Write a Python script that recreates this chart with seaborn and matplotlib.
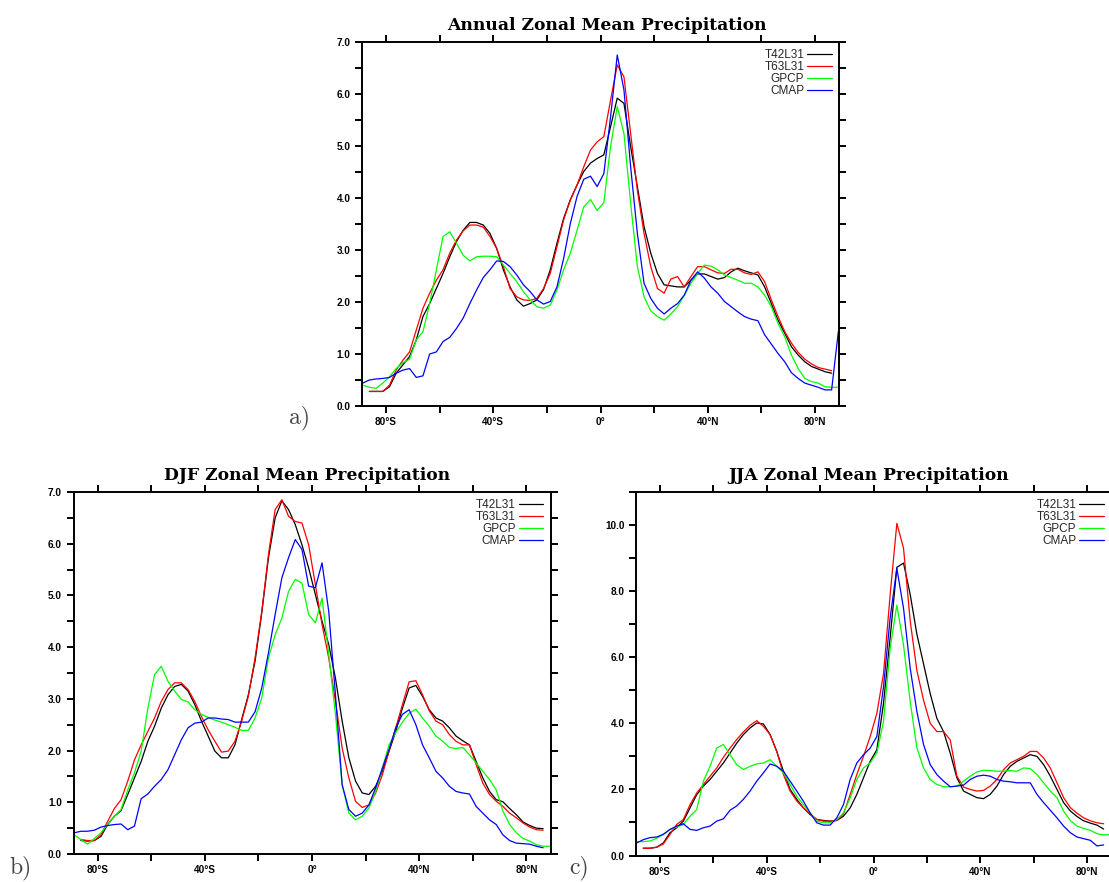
import numpy as np
import pandas as pd
import matplotlib
matplotlib.use("Agg")
import matplotlib.pyplot as plt
from matplotlib.lines import Line2D
from matplotlib.ticker import FixedLocator, FuncFormatter, MultipleLocator, FormatStrFormatter
import seaborn as sns

nan = np.nan

# Latitude grid (2.5 degree spacing, cell centres)
lat = np.round(np.arange(-88.75, 89.0, 2.5), 2)

sources = ["T42L31", "T63L31", "GPCP", "CMAP"]
colors = {"T42L31": "#000000", "T63L31": "#ff0000", "GPCP": "#00ff00", "CMAP": "#0000ff"}

# ---- Annual zonal mean precipitation (mm/day) ----
ann_t42 = [nan, 0.28, 0.28, 0.28, 0.37, 0.63, 0.79, 0.95, 1.27, 1.72,
           1.97, 2.26, 2.55, 2.87, 3.16, 3.38, 3.53, 3.53, 3.48, 3.32,
           3.03, 2.62, 2.29, 2.04, 1.92, 1.97, 2.04, 2.24, 2.62, 3.13,
           3.61, 3.97, 4.25, 4.51, 4.67, 4.76,
           4.83, 5.37, 5.92, 5.82, 4.99, 4.22, 3.45, 2.94, 2.55, 2.33,
           2.31, 2.29, 2.29, 2.42, 2.54, 2.54, 2.49, 2.44, 2.47, 2.58,
           2.65, 2.60, 2.56, 2.52, 2.29, 1.97, 1.65, 1.40, 1.14, 0.98,
           0.85, 0.76, 0.71, 0.66, 0.63, nan]
ann_t63 = [nan, 0.28, 0.28, 0.28, 0.40, 0.69, 0.88, 1.04, 1.46, 1.88,
           2.17, 2.42, 2.62, 2.94, 3.19, 3.37, 3.48, 3.48, 3.44, 3.26,
           3.03, 2.68, 2.26, 2.10, 2.04, 2.03, 2.07, 2.26, 2.55, 3.06,
           3.58, 3.96, 4.25, 4.60, 4.92, 5.08,
           5.18, 5.88, 6.56, 6.33, 5.24, 4.15, 3.32, 2.68, 2.26, 2.17,
           2.44, 2.49, 2.29, 2.49, 2.68, 2.68, 2.62, 2.56, 2.55, 2.63,
           2.63, 2.56, 2.53, 2.58, 2.39, 2.04, 1.72, 1.43, 1.21, 1.03,
           0.90, 0.81, 0.74, 0.71, 0.68, nan]
ann_gpcp = [0.40, 0.36, 0.34, 0.44, 0.56, 0.72, 0.83, 0.90, 1.27, 1.43,
            1.97, 2.62, 3.26, 3.35, 3.13, 2.90, 2.79, 2.87, 2.88, 2.88,
            2.87, 2.71, 2.55, 2.39, 2.20, 2.04, 1.91, 1.88, 1.94, 2.23,
            2.62, 2.94, 3.38, 3.83, 3.97, 3.76,
            3.91, 4.99, 5.76, 5.24, 3.90, 2.68, 2.10, 1.83, 1.72, 1.65,
            1.77, 1.91, 2.13, 2.36, 2.55, 2.71, 2.69, 2.62, 2.52, 2.47,
            2.42, 2.36, 2.36, 2.29, 2.13, 1.91, 1.59, 1.33, 0.98, 0.72,
            0.53, 0.47, 0.44, 0.37, 0.36, 0.36]
ann_cmap = [0.44, 0.50, 0.52, 0.53, 0.55, 0.63, 0.69, 0.72, 0.55, 0.58,
            1.00, 1.04, 1.24, 1.32, 1.49, 1.69, 1.97, 2.23, 2.47, 2.62,
            2.79, 2.78, 2.68, 2.52, 2.33, 2.20, 2.04, 1.96, 2.01, 2.29,
            2.84, 3.51, 4.03, 4.36, 4.42, 4.22,
            4.47, 5.56, 6.75, 6.08, 4.60, 3.32, 2.36, 2.07, 1.88, 1.77,
            1.88, 1.97, 2.13, 2.42, 2.58, 2.46, 2.29, 2.17, 2.01, 1.91,
            1.81, 1.72, 1.67, 1.64, 1.37, 1.19, 1.01, 0.85, 0.64, 0.53,
            0.44, 0.40, 0.36, 0.31, 0.31, 1.43]

# ---- DJF ----
djf_t42 = [nan, 0.26, 0.25, 0.26, 0.34, 0.57, 0.73, 0.84, 1.15, 1.47,
           1.79, 2.18, 2.47, 2.82, 3.08, 3.24, 3.28, 3.15, 2.89, 2.57,
           2.28, 1.99, 1.86, 1.86, 2.11, 2.60, 3.08, 3.73, 4.66, 5.73,
           6.50, 6.83, 6.66, 6.37, 5.98, 5.53,
           5.02, 4.50, 4.05, 3.40, 2.57, 1.86, 1.41, 1.18, 1.15, 1.31,
           1.60, 1.99, 2.37, 2.82, 3.21, 3.26, 3.05, 2.79, 2.63, 2.57,
           2.44, 2.28, 2.19, 2.11, 1.79, 1.47, 1.21, 1.05, 1.01, 0.88,
           0.76, 0.62, 0.55, 0.50, 0.49, nan]
djf_t63 = [nan, 0.28, 0.26, 0.26, 0.37, 0.63, 0.88, 1.05, 1.41, 1.82,
           2.11, 2.37, 2.63, 2.95, 3.18, 3.31, 3.31, 3.18, 2.95, 2.66,
           2.40, 2.18, 1.97, 1.99, 2.18, 2.57, 3.05, 3.79, 4.69, 5.79,
           6.66, 6.85, 6.53, 6.43, 6.40, 5.98,
           5.21, 4.44, 3.79, 2.95, 2.05, 1.47, 1.02, 0.90, 0.95, 1.18,
           1.53, 1.99, 2.44, 2.89, 3.33, 3.35, 3.08, 2.77, 2.57, 2.50,
           2.31, 2.18, 2.11, 2.11, 1.73, 1.37, 1.15, 1.02, 0.92, 0.79,
           0.70, 0.60, 0.52, 0.47, 0.46, nan]
djf_gpcp = [0.37, 0.28, 0.19, 0.30, 0.41, 0.57, 0.73, 0.86, 1.24, 1.57,
            1.99, 2.82, 3.47, 3.63, 3.34, 3.15, 2.99, 2.94, 2.79, 2.70,
            2.64, 2.59, 2.55, 2.50, 2.45, 2.39, 2.39, 2.63, 3.02, 3.79,
            4.24, 4.56, 5.08, 5.31, 5.24, 4.63,
            4.47, 4.95, 3.86, 2.70, 1.34, 0.79, 0.66, 0.73, 0.89, 1.21,
            1.66, 2.11, 2.35, 2.55, 2.72, 2.80, 2.63, 2.47, 2.28, 2.18,
            2.06, 2.04, 2.06, 1.92, 1.76, 1.60, 1.44, 1.24, 0.83, 0.57,
            0.41, 0.30, 0.25, 0.18, 0.15, 0.15]
djf_cmap = [0.41, 0.44, 0.44, 0.46, 0.52, 0.55, 0.57, 0.58, 0.47, 0.54,
            1.07, 1.16, 1.31, 1.44, 1.63, 1.92, 2.21, 2.44, 2.53, 2.55,
            2.63, 2.63, 2.61, 2.60, 2.55, 2.55, 2.55, 2.75, 3.21, 3.89,
            4.63, 5.34, 5.73, 6.08, 5.89, 5.18,
            5.15, 5.63, 4.69, 3.08, 1.34, 0.86, 0.73, 0.79, 0.95, 1.28,
            1.66, 2.02, 2.44, 2.70, 2.79, 2.50, 2.11, 1.86, 1.60, 1.47,
            1.31, 1.21, 1.18, 1.16, 0.92, 0.79, 0.66, 0.57, 0.37, 0.26,
            0.21, 0.20, 0.19, 0.15, 0.12, nan]

# ---- JJA ----
jja_t42 = [nan, 0.22, 0.22, 0.25, 0.38, 0.69, 0.84, 1.04, 1.44, 1.84,
           2.10, 2.30, 2.55, 2.80, 3.10, 3.40, 3.66, 3.86, 4.01, 3.98,
           3.66, 3.15, 2.55, 2.00, 1.70, 1.44, 1.24, 1.09, 1.06, 1.04,
           1.06, 1.19, 1.44, 1.85, 2.35, 2.85,
           3.20, 4.60, 6.60, 8.72, 8.85, 7.90, 6.70, 5.80, 4.90, 4.15,
           3.75, 3.10, 2.35, 1.95, 1.85, 1.75, 1.72, 1.85, 2.10, 2.45,
           2.70, 2.85, 2.95, 3.05, 3.00, 2.75, 2.40, 2.00, 1.60, 1.35,
           1.18, 1.05, 0.98, 0.92, 0.80, nan]
jja_t63 = [nan, 0.22, 0.22, 0.25, 0.35, 0.64, 0.94, 1.09, 1.54, 1.89,
           2.15, 2.40, 2.65, 2.97, 3.25, 3.51, 3.74, 3.94, 4.08, 3.91,
           3.66, 3.15, 2.45, 1.95, 1.65, 1.44, 1.26, 1.09, 1.04, 1.04,
           1.06, 1.26, 1.84, 2.45, 3.00, 3.60,
           4.30, 5.50, 7.90, 10.05, 9.30, 7.10, 5.60, 4.70, 4.00, 3.75,
           3.75, 3.50, 2.40, 2.07, 2.00, 1.95, 1.97, 2.10, 2.30, 2.60,
           2.80, 2.90, 3.00, 3.15, 3.15, 2.95, 2.65, 2.20, 1.75, 1.45,
           1.28, 1.14, 1.05, 0.99, 0.96, nan]
jja_gpcp = [0.42, 0.42, 0.44, 0.52, 0.64, 0.79, 0.86, 0.94, 1.19, 1.39,
            2.25, 2.70, 3.25, 3.36, 3.05, 2.75, 2.60, 2.70, 2.77, 2.80,
            2.90, 2.70, 2.50, 2.15, 1.79, 1.54, 1.29, 1.04, 0.99, 0.99,
            1.09, 1.29, 1.74, 2.30, 2.65, 2.80,
            3.10, 4.06, 6.28, 7.58, 6.37, 4.66, 3.26, 2.65, 2.30, 2.15,
            2.08, 2.08, 2.10, 2.25, 2.40, 2.53, 2.58, 2.57, 2.55, 2.55,
            2.57, 2.55, 2.65, 2.63, 2.45, 2.20, 1.95, 1.75, 1.34, 1.06,
            0.89, 0.82, 0.76, 0.66, 0.62, 0.64]
jja_cmap = [0.38, 0.48, 0.54, 0.56, 0.64, 0.79, 0.89, 0.96, 0.79, 0.76,
            0.84, 0.89, 1.04, 1.11, 1.37, 1.50, 1.70, 1.95, 2.25, 2.50,
            2.77, 2.70, 2.55, 2.25, 1.95, 1.64, 1.29, 0.99, 0.92, 0.92,
            1.14, 1.54, 2.30, 2.80, 3.05, 3.25,
            3.60, 5.10, 7.20, 8.69, 7.48, 5.67, 4.36, 3.36, 2.75, 2.45,
            2.25, 2.08, 2.10, 2.13, 2.30, 2.40, 2.43, 2.40, 2.30, 2.25,
            2.23, 2.20, 2.20, 2.20, 1.85, 1.60, 1.37, 1.14, 0.89, 0.69,
            0.56, 0.51, 0.46, 0.29, 0.32, nan]

x_major = [-80, -40, 0, 40, 80]
x_minor = [-60, -20, 20, 60]

sns.set_style("ticks")
plt.rcParams["font.family"] = ["Liberation Sans", "DejaVu Sans"]


def lat_label(v, pos):
    v = int(round(v))
    if v == 0:
        return "0\u00b0"
    return f"{abs(v)}\u00b0{'N' if v > 0 else 'S'}"


def long_frame(series):
    parts = [pd.DataFrame({"lat": lat, "precip": vals, "source": name})
             for name, vals in zip(sources, series)]
    return pd.concat(parts, ignore_index=True).dropna()


def draw_panel(ax, series, title, ymax, ymajor, yminor, title_x):
    df = long_frame(series)
    sns.lineplot(data=df, x="lat", y="precip", hue="source", hue_order=sources,
                 palette=colors, estimator=None, sort=False, legend=False,
                 linewidth=0.9, ax=ax)
    ax.set_xlim(-89, 89)
    ax.set_ylim(0, ymax)
    ax.xaxis.set_major_locator(FixedLocator(x_major))
    ax.xaxis.set_minor_locator(FixedLocator(x_minor))
    ax.xaxis.set_major_formatter(FuncFormatter(lat_label))
    ax.yaxis.set_major_locator(MultipleLocator(ymajor))
    ax.yaxis.set_minor_locator(MultipleLocator(yminor))
    ax.yaxis.set_major_formatter(FormatStrFormatter("%.1f"))
    ax.tick_params(which="both", direction="out", length=5, width=1.4,
                   top=True, right=True, labelsize=7.2, pad=3.2, colors="black")
    for sp in ax.spines.values():
        sp.set_linewidth(1.4)
        sp.set_color("black")
    ax.set_xlabel("")
    ax.set_ylabel("")
    for lbl in ax.get_xticklabels() + ax.get_yticklabels():
        lbl.set_fontweight("bold")
    ax.set_title(title, fontfamily="DejaVu Serif", fontweight="bold",
                 fontsize=12.3, pad=8.6, x=title_x, color="black")
    handles = [Line2D([], [], color=colors[s], linewidth=0.9) for s in sources]
    ax.legend(handles, sources, loc="upper right", markerfirst=False,
              frameon=False, fontsize=8.5, handlelength=2.1, handletextpad=0.25,
              labelspacing=0.0, borderaxespad=0.3, borderpad=0.3)


W, H = 1109, 882
fig = plt.figure(figsize=(W / 100, H / 100), dpi=100)

ax_a = fig.add_axes([362 / W, (H - 406) / H, 477 / W, 364 / H])
ax_b = fig.add_axes([73.5 / W, (H - 854) / H, 477 / W, 362 / H])
ax_c = fig.add_axes([636 / W, (H - 855.5) / H, 475 / W, 363.5 / H])

draw_panel(ax_a, [ann_t42, ann_t63, ann_gpcp, ann_cmap],
           "Annual Zonal Mean Precipitation", 7, 1, 0.5, 0.514)
draw_panel(ax_b, [djf_t42, djf_t63, djf_gpcp, djf_cmap],
           "DJF Zonal Mean Precipitation", 7, 1, 0.5, 0.49)
draw_panel(ax_c, [jja_t42, jja_t63, jja_gpcp, jja_cmap],
           "JJA Zonal Mean Precipitation", 11, 2, 1, 0.49)

for txt, px, py in [("a)", 289, 418), ("b)", 9, 868), ("c)", 569, 868)]:
    fig.text(px / W, 1 - py / H, txt, family="cmr10", fontsize=17,
             color="#444444", ha="left", va="center")

fig.savefig("out.png", dpi=100)
